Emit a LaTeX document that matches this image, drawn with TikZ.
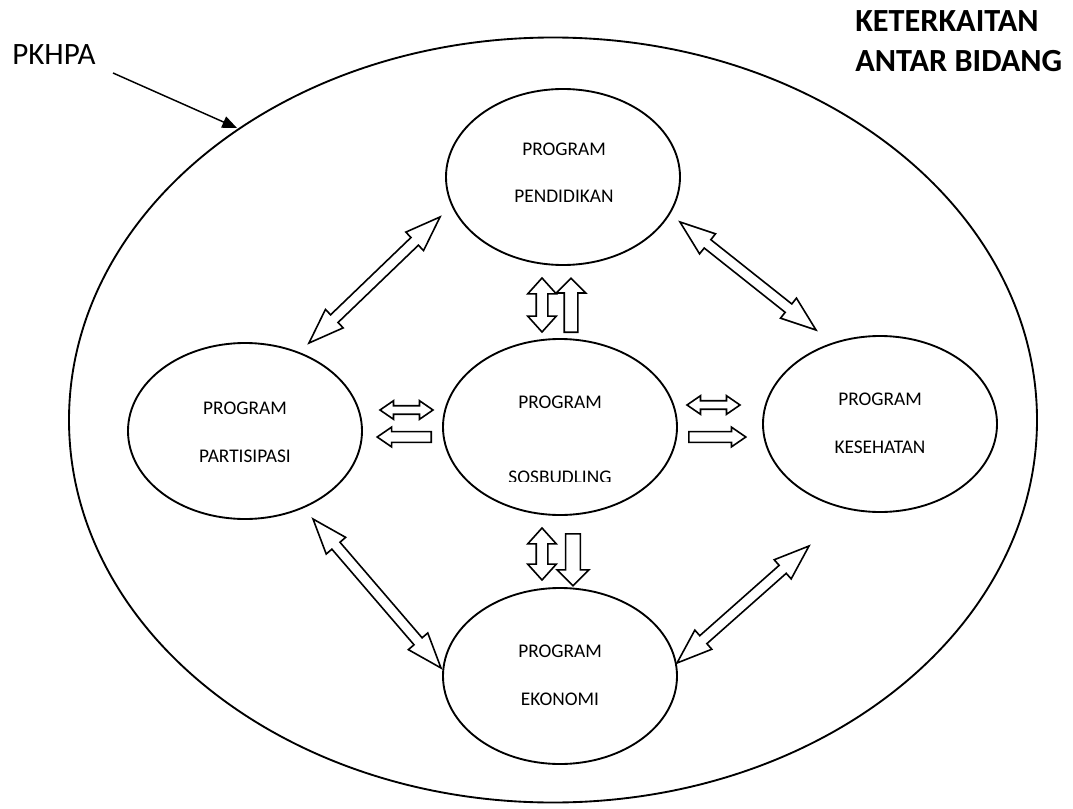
\documentclass[tikz,border=0pt]{standalone}
\usepackage{fontspec}
\setmainfont{Carlito}
\usetikzlibrary{shapes.geometric,shapes.arrows,arrows.meta}
\begin{document}
\begin{tikzpicture}[x=0.75pt,y=-0.75pt,
  oval/.style={draw, ellipse, line width=1.4pt, inner sep=0pt, minimum width=175.5pt, minimum height=132pt},
  lbl/.style={font=\fontsize{14.5}{17}\selectfont, anchor=base, inner sep=0pt},
  blk/.style={draw, line width=1.2pt, fill=white, inner xsep=0pt},
  diag/.style={blk, double arrow, inner ysep=3.4pt, double arrow head extend=5.6pt, double arrow tip angle=40, sloped},
  vdbl/.style={blk, double arrow, inner ysep=3.75pt, double arrow head extend=6.4pt, double arrow tip angle=84},
  vsgl/.style={blk, single arrow, inner ysep=4.5pt, single arrow head extend=6pt, single arrow tip angle=90},
  hdbl/.style={blk, double arrow, inner ysep=2.6pt, double arrow head extend=3.75pt, double arrow tip angle=69},
  hsgl/.style={blk, single arrow, inner ysep=3.4pt, single arrow head extend=3.4pt, single arrow tip angle=69}
]
\useasboundingbox (0,0) rectangle (1073,809);

% outer ellipse and titles
\node[draw, ellipse, line width=1.4pt, inner sep=0pt, minimum width=726pt, minimum height=573.75pt] (outer) at (553,420) {};
\node[anchor=base west, inner sep=0pt, font=\fontsize{23.3}{28}\selectfont] (pkhpa) at (12,65) {PKHPA};
\node[anchor=base west, inner sep=0pt, font=\bfseries\fontsize{24.2}{29}\selectfont] (t1) at (855,32) {KETERKAITAN};
\node[anchor=base west, inner sep=0pt, font=\bfseries\fontsize{24.2}{29}\selectfont] (t2) at (855,72) {ANTAR BIDANG};
\coordinate (pa) at (113,73);
\coordinate (pb) at (237,128);
\draw[line width=1.1pt, -{Triangle[length=11pt,width=9pt]}] (pa) -- (pb);

% program ellipses
\node[oval] (ped) at (563,177) {};
\node[oval] (par) at (245,431) {};
\node[oval] (sos) at (560,427) {};
\node[oval] (kes) at (880,424) {};
\node[oval] (eko) at (560,676) {};

\node[lbl] (ped1) at (564,156) {PROGRAM};
\node[lbl] (ped2) at (564,203) {PENDIDIKAN};
\node[lbl] (par1) at (245,414) {PROGRAM};
\node[lbl] (par2) at (245,462) {PARTISIPASI};
\node[lbl] (sos1) at (560,408) {PROGRAM};
\begin{scope}
\clip (480,455) rectangle (640,481);
\node[lbl] (sos2) at (560,483) {SOSBUDLING};
\end{scope}
\node[lbl] (kes1) at (880,405) {PROGRAM};
\node[lbl] (kes2) at (880,453) {KESEHATAN};
\node[lbl] (eko1) at (560,657) {PROGRAM};
\node[lbl] (eko2) at (560,705) {EKONOMI};

% diagonal double block arrows
\coordinate (ulA) at (309,343); \coordinate (ulB) at (440,217);
\coordinate (urA) at (680,222); \coordinate (urB) at (816,330);
\coordinate (llA) at (313,519); \coordinate (llB) at (441,668);
\coordinate (lrA) at (677,663); \coordinate (lrB) at (809,546);
\path (ulA) -- node[diag, minimum height=136.4pt] (ul) {} (ulB);
\path (urA) -- node[diag, minimum height=130.3pt] (ur) {} (urB);
\path (llA) -- node[diag, minimum height=147.3pt] (ll) {} (llB);
\path (lrA) -- node[diag, minimum height=132.3pt] (lr) {} (lrB);

% vertical arrows
\node[vdbl, rotate=90, minimum height=40.5pt] (v1) at (542,305) {};
\node[vsgl, rotate=90, minimum height=40.5pt, anchor=tail] (v2) at (571,333) {};
\node[vdbl, rotate=90, minimum height=39pt] (v3) at (542,554) {};
\node[vsgl, rotate=-90, minimum height=39pt, inner ysep=4.9pt, single arrow head extend=6.4pt, anchor=tail] (v4) at (573,533) {};

% horizontal arrows
\node[hdbl, minimum height=39.75pt] (h1) at (406.5,410) {};
\node[hsgl, rotate=180, minimum height=40.5pt, anchor=tail] (h2) at (432,437) {};
\node[hdbl, minimum height=39.75pt] (h3) at (713.5,405) {};
\node[hsgl, minimum height=42.75pt, anchor=tail] (h4) at (688,437) {};
\end{tikzpicture}
\end{document}
